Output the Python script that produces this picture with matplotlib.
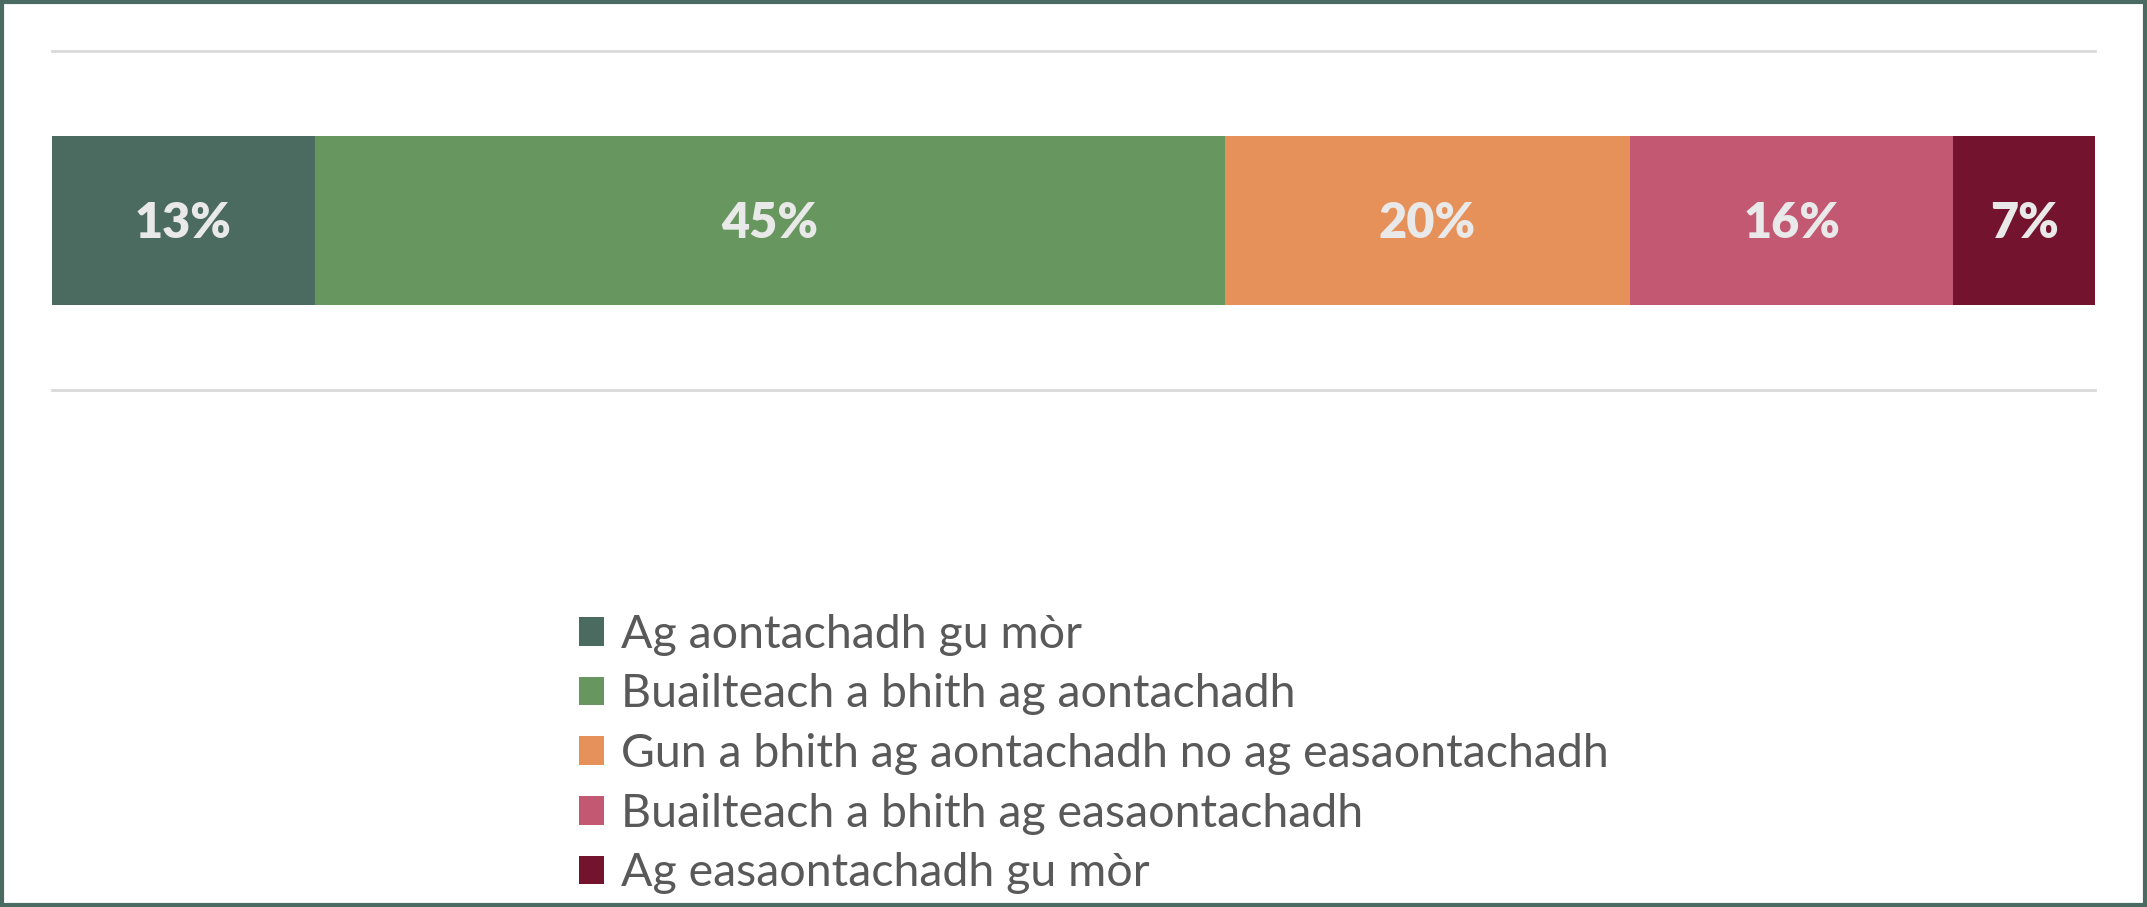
import matplotlib
matplotlib.use("Agg")
import matplotlib.pyplot as plt
from matplotlib.patches import Rectangle

categories = ["Ag aontachadh gu mòr",
              "Buailteach a bhith ag aontachadh",
              "Gun a bhith ag aontachadh no ag easaontachadh",
              "Buailteach a bhith ag easaontachadh",
              "Ag easaontachadh gu mòr"]
values = [13, 45, 20, 16, 7]
labels = ["13%", "45%", "20%", "16%", "7%"]
colors = ["#4b6a60", "#67975f", "#e6915a", "#c35872", "#74132d"]

plt.rcParams['font.family'] = ['Lato', 'DejaVu Sans']

fig = plt.figure(figsize=(21.47, 9.07), dpi=100)
ax = fig.add_axes([52/2147, 1-390/907, (2095-52)/2147, (390-51)/907])

left = 0
handles = []
for cat, v, lab, c in zip(categories, values, labels, colors):
    b = ax.barh(0, v, left=left, height=0.5, color=c, label=cat, edgecolor='none')
    handles.append(b)
    ax.text(left + v/2, -0.01, lab, ha='center', va='center', color='#e9e9e9',
            fontsize=35, fontweight='heavy')
    left += v

ax.set_xlim(0, sum(values))
ax.set_ylim(-0.5, 0.5)
ax.set_xticks([])
ax.set_yticks([])
for s in ['left', 'right']:
    ax.spines[s].set_visible(False)
for s in ['top', 'bottom']:
    ax.spines[s].set_color('#d9d9d9')
    ax.spines[s].set_linewidth(2)

leg = fig.legend(handles=handles, labels=categories,
                 loc='center', bbox_to_anchor=(1094/2147, 1-754/907),
                 frameon=False, fontsize=33.5, handlelength=0.54, handleheight=0.57,
                 handletextpad=0.36, labelspacing=0.38, borderpad=0)
for t in leg.get_texts():
    t.set_color('#595959')

fig.patches.append(Rectangle((0.0007, 0.0017), 0.9986, 0.9966, transform=fig.transFigure,
                             fill=False, edgecolor='#4a6b62', linewidth=3, zorder=10))

fig.savefig("out.png", dpi=100, facecolor='white')
